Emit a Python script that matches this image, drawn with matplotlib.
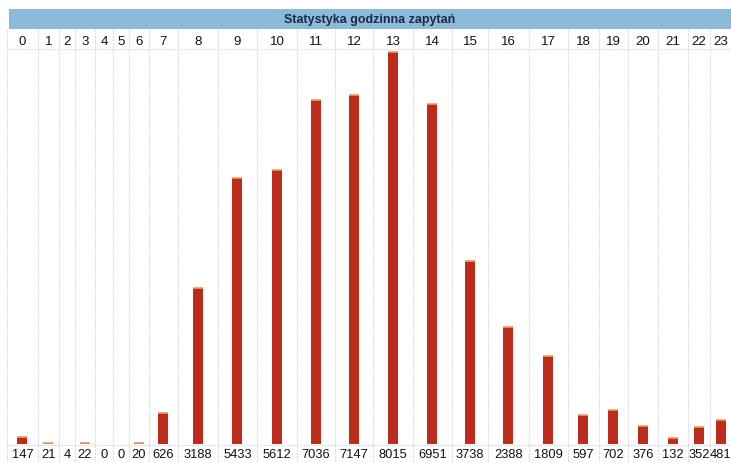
import matplotlib
matplotlib.use("Agg")
import matplotlib.pyplot as plt
from matplotlib.patches import Rectangle

# Hourly request counts
hours = [str(h) for h in range(24)]
requests = [147, 21, 4, 22, 0, 0, 20, 626, 3188, 5433, 5612, 7036,
            7147, 8015, 6951, 3738, 2388, 1809, 597, 702, 376, 132, 352, 481]
title = "Statystyka godzinna zapytań"

# Table layout: column widths in pixels (HTML-table style, sized by label text)
col_widths = [31, 21, 16, 20, 18, 16, 20, 29, 40, 39, 40, 38,
              38, 40, 39, 36, 41, 39, 31, 29, 30, 30, 22, 22]
table_left = 7
bar_px = 10

W, H, DPI = 731, 464, 100
fig = plt.figure(figsize=(W / DPI, H / DPI), dpi=DPI)
fig.patch.set_facecolor("white")

font = ["Liberation Sans", "DejaVu Sans"]
red = "#bd2c1a"
cap = "#eb9c66"
grid = "#dcdce8"

# plot area in pixel units horizontally, value units vertically
table_width = sum(col_widths)
top_px, base_px = 50, 445
units_per_px = 20.45
ax = fig.add_axes([table_left / W, (H - base_px) / H, table_width / W,
                   (base_px - top_px) / H])
ax.set_xlim(table_left, table_left + table_width)
ax.set_ylim(0, (base_px - top_px) * units_per_px)
ax.axis("off")

edges = [table_left]
for w in col_widths:
    edges.append(edges[-1] + w)
centers = [(a + b) / 2 for a, b in zip(edges[:-1], edges[1:])]

ax.bar(centers, requests, width=bar_px, color=red, linewidth=0, zorder=3)
# light top edge of each bar
for c, v in zip(centers, requests):
    if v >= 10:
        ax.plot([c - bar_px / 2, c + bar_px / 2], [v, v], color=cap, lw=1.2,
                solid_capstyle="butt", zorder=4)

# whole-figure overlay in pixel coordinates for table chrome
ov = fig.add_axes([0, 0, 1, 1], zorder=-1)
ov.set_xlim(0, W)
ov.set_ylim(H, 0)
ov.axis("off")

for e in edges[:-1]:
    ov.plot([e, e], [30, H], color=grid, lw=0.8, ls=(0, (2, 1)), zorder=1)
ov.plot([table_left, W], [50, 50], color=grid, lw=0.8, ls=(0, (2, 1)))
ov.plot([table_left, W], [446, 446], color=grid, lw=0.8, ls=(0, (2, 1)))

ov.add_patch(Rectangle((9, 10), W - 9, 20, facecolor="#8bbbd8",
                       edgecolor="none", zorder=2))
ov.text(table_left + table_width / 2, 20.5, title, ha="center", va="center",
        fontsize=9, fontweight="bold", color="#1c2a4a", family=font,
        zorder=3)

for c, h, v in zip(centers, hours, requests):
    ov.text(c, 42, h, ha="center", va="center", fontsize=9.5, color="#111111",
            family=font)
    ov.text(c, 455, str(v), ha="center", va="center", fontsize=9.3,
            color="#111111", family=font)

fig.savefig("out.png", dpi=DPI)
